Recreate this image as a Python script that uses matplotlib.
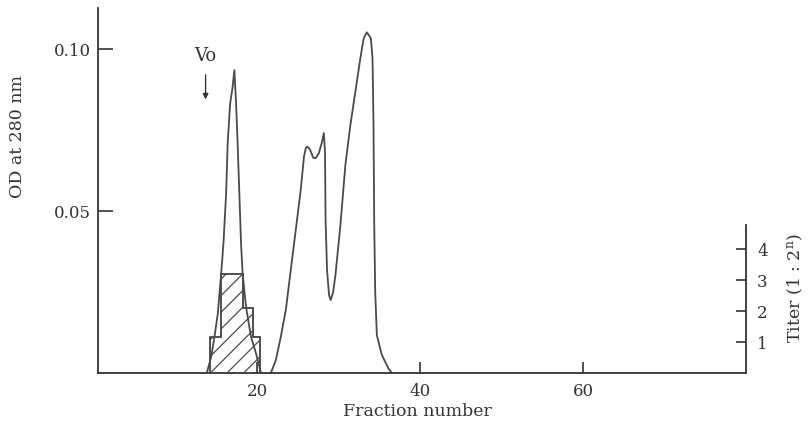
import matplotlib
matplotlib.use('Agg')
import matplotlib.pyplot as plt

plt.rcParams['font.family'] = ['DejaVu Serif']
plt.rcParams['mathtext.fontset'] = 'dejavuserif'
plt.rcParams['hatch.linewidth'] = 0.9

GRAY = '#4a4a4a'

# OD at 280 nm, first (void) peak
frac_1 = [13.85, 14.39, 14.79, 15.2, 15.61, 15.89, 16.22, 16.41, 16.71, 17.0,
          17.23, 17.44, 17.63, 17.84, 18.05, 18.24, 18.66, 19.27, 19.88, 20.5]
od_1 = [0.0, 0.0050, 0.0112, 0.0184, 0.0307, 0.0400, 0.0555, 0.0709, 0.0832,
        0.0880, 0.0935, 0.0832, 0.0709, 0.0555, 0.0400, 0.0307, 0.0204,
        0.0112, 0.0061, 0.0]

# OD at 280 nm, second peak group
frac_2 = [21.71, 22.32, 22.93, 23.54, 24.15, 24.76, 25.37, 25.77, 26.0, 26.17,
          26.4, 26.59, 26.9, 27.2, 27.6, 28.0, 28.21, 28.35, 28.42, 28.6,
          28.85, 29.05, 29.35, 29.63, 30.24, 30.85, 31.46, 32.07, 32.68,
          33.09, 33.49, 33.98, 34.18, 34.3, 34.39, 34.51, 34.71, 35.32,
          36.13, 36.54]
od_2 = [0.0, 0.0040, 0.0112, 0.0194, 0.0318, 0.0441, 0.0565, 0.0668, 0.0695,
        0.0699, 0.0694, 0.0685, 0.0665, 0.0663, 0.0679, 0.0715, 0.0741,
        0.0680, 0.0472, 0.0318, 0.0240, 0.0225, 0.0250, 0.0302, 0.0457,
        0.0642, 0.0765, 0.0868, 0.0971, 0.1033, 0.1052, 0.1033, 0.0971,
        0.0765, 0.0457, 0.0251, 0.0117, 0.0056, 0.0014, 0.0]

# titer histogram
titer_edges = [14.2, 15.6, 18.3, 19.5, 20.4]
titer_vals = [1.15, 3.2, 2.1, 1.15]

od_ticks = [0.05, 0.10]
od_labels = ['0.05', '0.10']
frac_ticks = [20, 40, 60]
titer_ticks = [1, 2, 3, 4]

fig = plt.figure(figsize=(8.09, 4.30), dpi=100)
ax = fig.add_axes([98 / 809, 57 / 430, 648 / 809, 365 / 430])
ax.set_xlim(0.5, 80)
ax.set_ylim(0, 0.1127)

ax.plot(frac_1, od_1, color=GRAY, lw=1.3, solid_joinstyle='round')
ax.plot(frac_2, od_2, color=GRAY, lw=1.3, solid_joinstyle='round')

ax.spines['top'].set_visible(False)
ax.spines['right'].set_visible(False)
for s in ['left', 'bottom']:
    ax.spines[s].set_linewidth(1.3)
    ax.spines[s].set_color('#333333')

ax.set_yticks(od_ticks)
ax.set_yticklabels(od_labels)
ax.set_xticks(frac_ticks)
ax.tick_params(axis='y', direction='in', length=11, width=1.2, pad=5,
               labelsize=12, colors='#333333')
ax.tick_params(axis='x', direction='in', length=8, width=1.2, pad=7,
               labelsize=12, colors='#333333')

# titer axis
ax2 = ax.twinx()
ax2.set_ylim(0, 365 / 30.9)
ax2.stairs(titer_vals, titer_edges, fill=True, facecolor='none',
           edgecolor=GRAY, hatch='//', lw=1.1)
ax2.stairs(titer_vals, titer_edges, fill=False, color=GRAY, lw=1.1)
for s in ['top', 'left', 'bottom']:
    ax2.spines[s].set_visible(False)
ax2.spines['right'].set_bounds(0, 4.8)
ax2.spines['right'].set_linewidth(1.3)
ax2.spines['right'].set_color('#333333')
ax2.set_yticks(titer_ticks)
ax2.tick_params(axis='y', direction='in', length=7, width=1.2, pad=8,
                labelsize=12, colors='#333333')

# Vo marker
ax.text(13.7, 0.0978, 'Vo', ha='center', va='center', fontsize=13,
        color='#333333')
ax.annotate('', xy=(13.7, 0.0836), xytext=(13.7, 0.0929),
            arrowprops=dict(arrowstyle='-|>', color='#333333', lw=1.0,
                            mutation_scale=8))

fig.text(18 / 809, 1 - 137 / 430, 'OD at 280 nm', rotation=90,
         ha='center', va='center', fontsize=12.5, color='#333333')
fig.text(417 / 809, 1 - 412 / 430, 'Fraction number', ha='center',
         va='center', fontsize=12.5, color='#333333')
fig.text(795 / 809, 1 - 288 / 430, r'Titer (1 : 2$^{\rm n}$)', rotation=90,
         ha='center', va='center', fontsize=12.5, color='#333333')

fig.savefig('out.png', dpi=100)
